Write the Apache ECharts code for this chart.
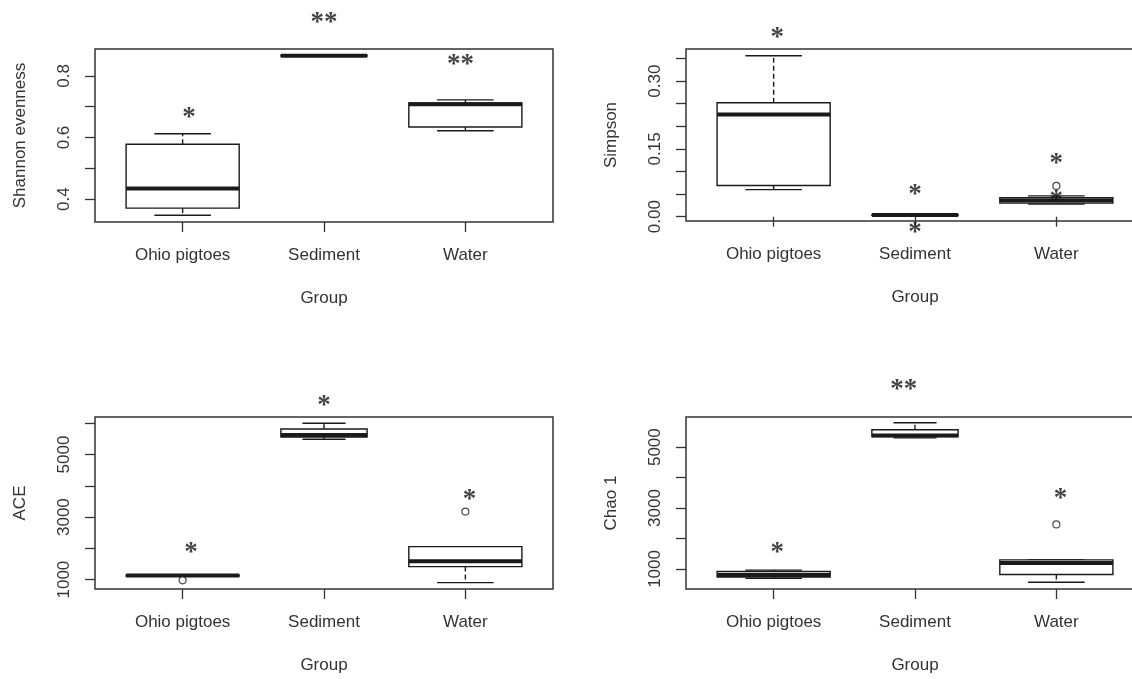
<!DOCTYPE html>
<html>
<head>
<meta charset="utf-8">
<script src="https://cdn.jsdelivr.net/npm/echarts@6/dist/echarts.min.js"></script>
<style>
  html, body { margin: 0; padding: 0; background: #fff; }
  #chart { width: 1132px; height: 679px; }
</style>
</head>
<body>
<div id="chart"></div>
<script>
// groups on the x axis
const groups = ['Ohio pigtoes', 'Sediment', 'Water'];

// box stats per group: [lower whisker, Q1, median, Q3, upper whisker]
const shannonBox = [
  [0.348, 0.371, 0.435, 0.578, 0.612],
  [0.864, 0.864, 0.865, 0.866, 0.866],
  [0.622, 0.634, 0.708, 0.712, 0.722]
];
const simpsonBox = [
  [0.060, 0.069, 0.226, 0.252, 0.356],
  [0.003, 0.003, 0.004, 0.004, 0.004],
  [0.028, 0.030, 0.036, 0.042, 0.046]
];
const aceBox = [
  [1105, 1115, 1128, 1140, 1150],
  [5488, 5562, 5626, 5818, 6000],
  [904, 1416, 1585, 2056, 2056]
];
const chaoBox = [
  [690, 737, 802, 914, 960],
  [5306, 5349, 5382, 5570, 5803],
  [562, 815, 1198, 1297, 1297]
];

// outliers: [group position, value]
const shannonOut = [];
const simpsonOut = [[3, 0.068]];
const aceOut = [[1, 978], [3, 3175]];
const chaoOut = [[3, 2463]];

// significance marks: [x position, value, text]
const shannonStars = [[1.045, 0.680, '*'], [2.0, 0.988, '**'], [2.965, 0.852, '**']];
const simpsonStars = [[1.026, 0.406, '*'], [2.0, 0.058, '*'], [2.0, -0.026, '*'], [3.0, 0.127, '*'], [3.0, 0.046, '*']];
const aceStars = [[1.06, 2024, '*'], [2.0, 6704, '*'], [3.03, 3719, '*']];
const chaoStars = [[1.026, 1692, '*'], [1.92, 7053, '**'], [3.03, 3461, '*']];

// y axis ticks and labels
const shannonTicks = [0.4, 0.5, 0.6, 0.7, 0.8];
const shannonLabels = [0.4, 0.6, 0.8];
const simpsonTicks = [0, 0.05, 0.10, 0.15, 0.20, 0.25, 0.30, 0.35];
const simpsonLabels = [0, 0.15, 0.30];
const aceTicks = [1000, 2000, 3000, 4000, 5000, 6000];
const aceLabels = [1000, 3000, 5000];
const chaoTicks = [1000, 2000, 3000, 4000, 5000];
const chaoLabels = [1000, 3000, 5000];

const panels = [
  { name: 'Shannon evenness', box: shannonBox, out: shannonOut, stars: shannonStars,
    min: 0.326, max: 0.887, ticks: shannonTicks, labels: shannonLabels, digits: 1 },
  { name: 'Simpson', box: simpsonBox, out: simpsonOut, stars: simpsonStars,
    min: -0.0095, max: 0.371, ticks: simpsonTicks, labels: simpsonLabels, digits: 2 },
  { name: 'ACE', box: aceBox, out: aceOut, stars: aceStars,
    min: 699, max: 6202, ticks: aceTicks, labels: aceLabels, digits: 0 },
  { name: 'Chao 1', box: chaoBox, out: chaoOut, stars: chaoStars,
    min: 341, max: 5990, ticks: chaoTicks, labels: chaoLabels, digits: 0 }
];

// plot regions (right column runs past the edge, as in the source image)
const gridPos = [
  { left: 95, top: 49, width: 458, height: 173 },
  { left: 686, top: 49, width: 458, height: 172 },
  { left: 95, top: 417, width: 458, height: 172 },
  { left: 686, top: 417, width: 458, height: 172 }
];

const boxW = [0.8, 0.61, 0.8];   // varwidth-style box widths
const INK = '#1a1a1a';
const TXT = '#333';
const SANS = 'Liberation Sans, Arial, sans-serif';

function drawBox(params, api) {
  const i = params.dataIndex;
  const x = api.value(0);
  const w = api.size([boxW[i], 0])[0];
  const pt = k => api.coord([x, api.value(k)]);
  const lo = pt(1), q1 = pt(2), md = pt(3), q3 = pt(4), hi = pt(5);
  const cx = lo[0], h = w / 2, c = w / 4;
  const thin = { stroke: INK, lineWidth: 1.4 };
  const dash = { stroke: INK, lineWidth: 1.4, lineDash: [5, 3] };
  return {
    type: 'group',
    children: [
      { type: 'line', shape: { x1: cx, y1: q3[1], x2: cx, y2: hi[1] }, style: dash },
      { type: 'line', shape: { x1: cx, y1: q1[1], x2: cx, y2: lo[1] }, style: dash },
      { type: 'line', shape: { x1: cx - c, y1: hi[1], x2: cx + c, y2: hi[1] }, style: thin },
      { type: 'line', shape: { x1: cx - c, y1: lo[1], x2: cx + c, y2: lo[1] }, style: thin },
      { type: 'rect', shape: { x: cx - h, y: q3[1], width: w, height: q1[1] - q3[1] },
        style: { fill: '#fff', stroke: INK, lineWidth: 1.4 } },
      { type: 'line', shape: { x1: cx - h, y1: md[1], x2: cx + h, y2: md[1] },
        style: { stroke: INK, lineWidth: 4 } }
    ]
  };
}

const grid = [], xAxis = [], yAxis = [], series = [];

panels.forEach((p, k) => {
  grid.push(Object.assign({
    show: true, borderColor: '#333', borderWidth: 1.5, backgroundColor: '#fff',
    outerBoundsMode: 'none', containLabel: false
  }, gridPos[k]));

  xAxis.push({
    type: 'value', gridIndex: k, min: 0.38, max: 3.62,
    name: 'Group', nameLocation: 'middle', nameGap: 68,
    nameTextStyle: { fontFamily: SANS, fontSize: 17, color: TXT },
    axisLine: { show: false },
    splitLine: { show: false },
    axisTick: { show: true, length: 10, customValues: [1, 2, 3], lineStyle: { color: '#333', width: 1.3 } },
    axisLabel: { customValues: [1, 2, 3], margin: 25, fontFamily: SANS, fontSize: 17, color: TXT,
      formatter: v => groups[Math.round(v) - 1] }
  });

  yAxis.push({
    type: 'value', gridIndex: k, min: p.min, max: p.max,
    name: p.name, nameLocation: 'middle', nameGap: 66, nameRotate: 90,
    nameTextStyle: { fontFamily: SANS, fontSize: 17, color: TXT },
    axisLine: { show: false },
    splitLine: { show: false },
    axisTick: { show: true, length: 10, customValues: p.ticks, lineStyle: { color: '#333', width: 1.3 } },
    axisLabel: { customValues: p.labels, rotate: 90, margin: 22, fontFamily: SANS, fontSize: 17, color: TXT,
      formatter: v => v.toFixed(p.digits) }
  });

  series.push({
    type: 'custom', xAxisIndex: k, yAxisIndex: k,
    renderItem: drawBox,
    encode: { x: 0, y: [1, 2, 3, 4, 5] },
    data: p.box.map((b, i) => [i + 1].concat(b)),
    z: 2
  });

  series.push({
    type: 'scatter', xAxisIndex: k, yAxisIndex: k,
    symbol: 'circle', symbolSize: 7,
    itemStyle: { color: '#fff', borderColor: INK, borderWidth: 1.2 },
    data: p.out, z: 3
  });

  series.push({
    type: 'scatter', xAxisIndex: k, yAxisIndex: k, clip: false,
    symbolSize: 1, itemStyle: { color: 'transparent' },
    label: { show: true, position: 'inside', formatter: d => d.value[2],
      fontFamily: 'Liberation Serif, Times New Roman, serif', fontWeight: 'bold',
      fontSize: 27, color: '#111', offset: [0, 5] },
    data: p.stars, z: 4
  });
});

const chart = echarts.init(document.getElementById('chart'), null, { renderer: 'canvas' });
chart.setOption({ animation: false, grid, xAxis, yAxis, series });
</script>
</body>
</html>
